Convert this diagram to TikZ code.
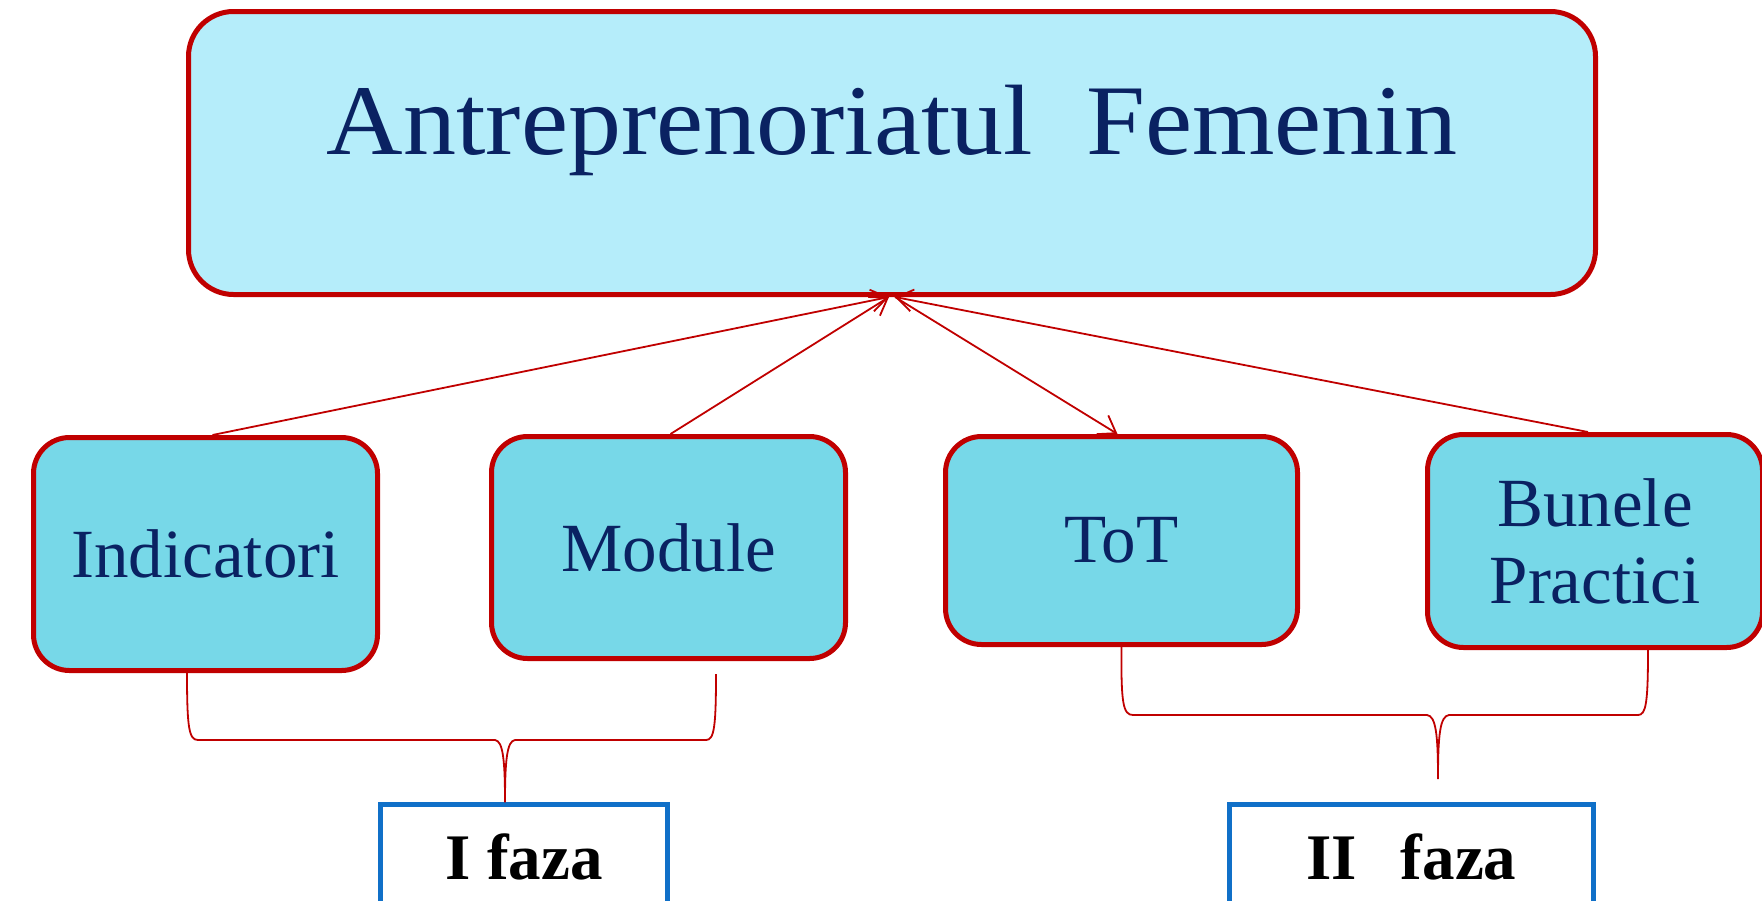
\documentclass[tikz,border=0pt]{standalone}
\usepackage{fontspec}
\setmainfont{Liberation Serif}
\newfontfamily\titlefont[FakeStretch=1.06]{Liberation Serif}
\usetikzlibrary{arrows.meta}
\definecolor{boxred}{HTML}{C00000}
\definecolor{titlefill}{HTML}{B5EDFA}
\definecolor{childfill}{HTML}{77D8E8}
\definecolor{navy}{HTML}{0A2262}
\definecolor{fazablue}{HTML}{1070C8}
\tikzset{
  titlebox/.style={draw=boxred, line width=5pt, fill=titlefill, rounded corners=45pt,
    inner sep=0pt, text=navy, font=\titlefont\fontsize{100}{120}\selectfont},
  childbox/.style={draw=boxred, line width=5pt, fill=childfill, rounded corners=36pt,
    inner sep=0pt, text=navy, align=center, font=\fontsize{69}{77}\selectfont},
  fazabox/.style={draw=fazablue, line width=4.5pt, fill=white, inner sep=0pt,
    text=black, font=\fontsize{65}{70}\selectfont\bfseries, anchor=base},
  conn/.style={draw=boxred, line width=1.8pt},
  tip/.style={-{Straight Barb[length=16pt,width=22pt]}},
  brace/.style={draw=boxred, line width=1.8pt}
}
\begin{document}
\begin{tikzpicture}[x=1pt,y=-1pt]
\useasboundingbox (0,0) rectangle (1762,900);
\clip (0,0) rectangle (1762,900);

\node[titlebox, minimum width=1407pt, minimum height=283pt, text height=66pt, text depth=64pt]
  (top) at (892,153) {Antreprenoriatul\ \ Femenin};

\node[childbox, minimum width=344pt, minimum height=233pt] (ind) at (205.5,554) {Indicatori};
\node[childbox, minimum width=354pt, minimum height=222pt] (mod) at (668.5,547.5) {Module};
\node[childbox, minimum width=352pt, minimum height=208pt] (tot) at (1121.5,540.5) {ToT};
\node[childbox, minimum width=335pt, minimum height=213pt] (bun) at (1595,541) {Bunele\\Practici};

\node[fazabox, minimum width=287pt, text height=74.5pt, text depth=120pt] (f1) at (524,879) {I faza};
\node[fazabox, minimum width=364pt, text height=74.5pt, text depth=120pt] (f2) at (1411.5,879) {II\hspace{44pt}faza};

% connectors
\draw[conn, tip] ([xshift=7pt]ind.north) -- ([xshift=-3pt]top.south);
\draw[conn, tip] ([xshift=2pt]mod.north) -- ([xshift=-3pt]top.south);
\draw[conn, tip] ([xshift=-7pt]bun.north) -- ([xshift=3pt]top.south);
\draw[conn, tip] ([xshift=3pt]top.south) -- ([xshift=-4pt]tot.north);

% braces
\coordinate (b1a) at ([xshift=-18.5pt]ind.south);
\coordinate (b1b) at (716,674);
\coordinate (b1t) at ([xshift=-19pt]f1.north);
\draw[brace] (b1a) .. controls (187,728) and (189,740) .. (198,740) -- (495,740)
  .. controls (503,741) and (505,760) .. (b1t)
  .. controls (505,760) and (507,741) .. (515,740) -- (706,740)
  .. controls (714,740) and (716,728) .. (b1b);

\coordinate (b2a) at (tot.south);
\coordinate (b2b) at ([xshift=53pt]bun.south);
\coordinate (b2t) at (1438,779);
\draw[brace] (b2a) .. controls (1121,703) and (1123,715) .. (1133,715) -- (1427,715)
  .. controls (1436,716) and (1438,735) .. (b2t)
  .. controls (1438,735) and (1440,716) .. (1449,715) -- (1638,715)
  .. controls (1646,715) and (1648,703) .. (b2b);
\end{tikzpicture}
\end{document}
